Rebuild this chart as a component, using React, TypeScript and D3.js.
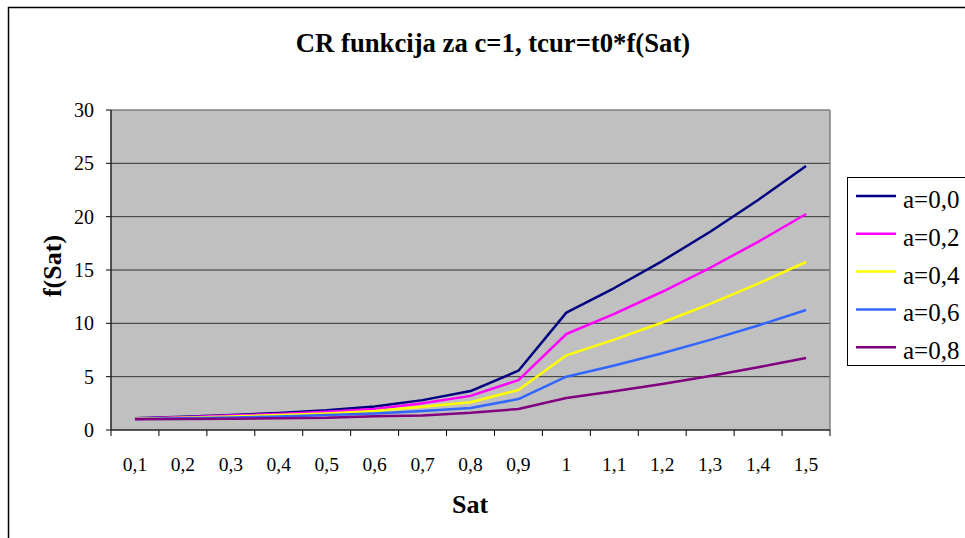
import React from "react";
import * as d3 from "d3";

const categories = ["0,1","0,2","0,3","0,4","0,5","0,6","0,7","0,8","0,9","1","1,1","1,2","1,3","1,4","1,5"];
const seriesNames = ["a=0,0","a=0,2","a=0,4","a=0,6","a=0,8"];
const seriesColors = ["#000080","#FF00FF","#FFFF00","#3366FF","#800080"];
const a00 = [1.1, 1.25, 1.4, 1.6, 1.85, 2.2, 2.8, 3.65, 5.56, 11, 13.31, 15.84, 18.59, 21.56, 24.75];
const a02 = [1.08, 1.2, 1.35, 1.5, 1.7, 1.97, 2.5, 3.2, 4.68, 9, 10.89, 12.96, 15.21, 17.64, 20.25];
const a04 = [1.06, 1.15, 1.27, 1.4, 1.55, 1.78, 2.18, 2.6, 3.75, 7, 8.47, 10.08, 11.83, 13.72, 15.75];
const a06 = [1.04, 1.1, 1.18, 1.27, 1.4, 1.55, 1.78, 2.06, 2.9, 5, 6.05, 7.2, 8.45, 9.8, 11.25];
const a08 = [1.0, 1.02, 1.05, 1.1, 1.15, 1.3, 1.37, 1.62, 1.97, 3, 3.63, 4.32, 5.07, 5.88, 6.75];
const seriesValues = [a00, a02, a04, a06, a08];
const yTicks = [0, 5, 10, 15, 20, 25, 30];

const W = 965, H = 538;
const L = 111, R = 830, T = 110, B = 430;
const FONT = "'Times New Roman', Times, 'Liberation Serif', 'DejaVu Serif', serif";

export default function App() {
  const x = d3.scaleBand<string>().domain(categories).range([L, R]);
  const y = d3.scaleLinear().domain([0, 30]).range([B, T]);
  const line = d3.line<number>()
    .x((_, i) => (x(categories[i]) as number) + x.bandwidth() / 2)
    .y((v) => y(v));
  const bounds = [...categories.map((c) => x(c) as number), R];
  const txt = (size: number, bold = false): React.CSSProperties => ({
    fontFamily: FONT, fontSize: size, fontWeight: bold ? "bold" : "normal",
  });
  return (
    <svg width={W} height={H} style={{ position: "absolute", left: 0, top: 0 }}>
      <rect x={0} y={0} width={W} height={H} fill="#fff" />
      <rect x={8.5} y={7.5} width={W + 10} height={H + 10} fill="#fff" stroke="#000" strokeWidth={1.5} />
      <text x={493} y={52} textAnchor="middle" style={txt(26.7, true)}>
        CR funkcija za c=1, tcur=t0*f(Sat)
      </text>
      <rect x={L} y={T} width={R - L} height={B - T} fill="#C0C0C0" />
      {yTicks.map((t) => (
        <g key={t}>
          {t > 0 && t < 30 && <line x1={L} x2={R} y1={y(t)} y2={y(t)} stroke="#333" strokeWidth={1} />}
          <line x1={L - 5} x2={L} y1={y(t)} y2={y(t)} stroke="#000" strokeWidth={1} />
          <text x={94} y={y(t) + 7} textAnchor="end" style={txt(20)}>{t}</text>
        </g>
      ))}
      <line x1={L} x2={R} y1={T} y2={T} stroke="#808080" strokeWidth={1.5} />
      <line x1={R} x2={R} y1={T} y2={B} stroke="#808080" strokeWidth={1.5} />
      {bounds.map((b, i) => (
        <line key={i} x1={b} x2={b} y1={B} y2={B + 6} stroke="#000" strokeWidth={1} />
      ))}
      {categories.map((c) => (
        <text key={c} x={(x(c) as number) + x.bandwidth() / 2} y={471} textAnchor="middle" style={txt(19.5)}>{c}</text>
      ))}
      {seriesValues.map((vals, i) => (
        <path key={i} d={line(vals) as string} fill="none" stroke={seriesColors[i]} strokeWidth={2.5} strokeLinejoin="round" />
      ))}
      <line x1={L} x2={L} y1={T} y2={B} stroke="#222" strokeWidth={1.5} />
      <line x1={L} x2={R} y1={B} y2={B} stroke="#222" strokeWidth={1.5} />
      <text x={470} y={513} textAnchor="middle" style={txt(26, true)}>Sat</text>
      <text transform={`translate(61,266) rotate(-90)`} textAnchor="middle" style={txt(26, true)}>f(Sat)</text>
      <rect x={847.5} y={177.5} width={140} height={188} fill="#fff" stroke="#000" strokeWidth={1} />
      {seriesNames.map((n, i) => (
        <g key={n}>
          <line x1={856} x2={896} y1={196 + i * 37.8} y2={196 + i * 37.8} stroke={seriesColors[i]} strokeWidth={2.5} />
          <text x={903} y={196 + i * 37.8 + 12} style={txt(25)}>{n}</text>
        </g>
      ))}
    </svg>
  );
}
